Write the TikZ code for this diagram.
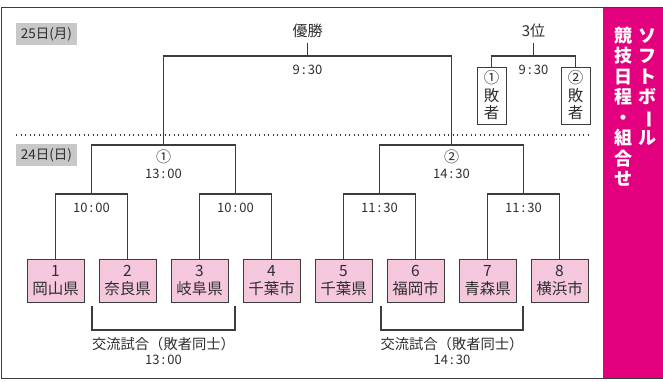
\documentclass[tikz,border=0pt]{standalone}
\usepackage{fontspec}
\setmainfont{Noto Sans CJK JP}
\usepackage{graphicx}
\usetikzlibrary{positioning}
\definecolor{linegray}{HTML}{3C3C3C}
\definecolor{textgray}{HTML}{2E2E2E}
\definecolor{teampink}{HTML}{F6C8DE}
\definecolor{bandpink}{HTML}{E3007F}
\definecolor{dategray}{HTML}{C8C8C8}
\tikzset{
	bracket/.style={draw=linegray, line width=1.1pt},
	teambox/.style={draw=linegray, fill=teampink, line width=0.9pt, minimum width=57pt, minimum height=43pt, inner sep=0pt, align=center, font=\fontsize{15.5}{18.5}\selectfont},
	loserbox/.style={draw=linegray, fill=white, line width=0.9pt, minimum width=29pt, minimum height=57pt, inner sep=0pt, align=center, font=\fontsize{15.5}{17.5}\selectfont},
	datebox/.style={fill=dategray, minimum width=61pt, minimum height=22pt, inner sep=0pt, font=\fontsize{13.5}{15}\selectfont},
	timelabel/.style={inner sep=0pt, font=\fontsize{13}{15}\selectfont},
	titlelabel/.style={inner sep=0pt, outer sep=5pt, font=\fontsize{15}{17}\selectfont},
	bandtext/.style={inner sep=0pt, align=center, text=white, font=\bfseries\fontsize{18}{20.5}\selectfont}
}
\newcommand{\hm}[2]{#1\,:\,#2}

\begin{document}
\begin{tikzpicture}[x=1pt, y=-1pt, text=textgray]

	\useasboundingbox[fill=white] (0,0) rectangle (663,381);
	
	% frame and title band
	\draw[linegray, line width=1pt] (1.5,7.5) rectangle (662,378);
	\fill[bandpink] (603,8) rectangle (663,378);
	\node[bandtext] (bandright) at (647,87) {ソ\\フ\\ト\\ボ\\\rotatebox[origin=c]{-90}{ー}\\ル};
	\node[bandtext] (bandleft) at (623,106.5) {競\\技\\日\\程\\・\\組\\合\\せ};
	
	% days
	\node[datebox] (day25) at (46.5,34) {25日(月)};
	\node[datebox] (day24) at (46.5,155) {24日(日)};
	\draw[linegray, line width=1.2pt, dash pattern=on 1.2pt off 3.3pt] (16,135) -- (590,135);
	
	% teams
	\foreach \name [count=\i] in {岡山県,奈良県,岐阜県,千葉市,千葉県,福岡市,青森県,横浜市}
		\node[teambox] (t\i) at ({55.5+72*(\i-1)},280.5) {\i\\\name};
	
	% first round
	\coordinate (q1) at (91.5,194);
	\coordinate (q2) at (235.5,194);
	\coordinate (q3) at (379.5,194);
	\coordinate (q4) at (523.5,194);
	\draw[bracket] (t1.north) |- (q1) -| (t2.north);
	\draw[bracket] (t3.north) |- (q2) -| (t4.north);
	\draw[bracket] (t5.north) |- (q3) -| (t6.north);
	\draw[bracket] (t7.north) |- (q4) -| (t8.north);
	\node[timelabel] (time1) at (91.5,208) {\hm{10}{00}};
	\node[timelabel] (time2) at (235.5,208) {\hm{10}{00}};
	\node[timelabel] (time3) at (379.5,208) {\hm{11}{30}};
	\node[timelabel] (time4) at (523.5,208) {\hm{11}{30}};
	
	% semifinals
	\coordinate (s1) at (163.5,145);
	\coordinate (s2) at (451.5,145);
	\draw[bracket] (q1) |- (s1) -| (q2);
	\draw[bracket] (q3) |- (s2) -| (q4);
	\node[timelabel, font=\fontsize{15}{17}\selectfont] (semi1) at (163.5,157) {①};
	\node[timelabel] (time5) at (163.5,174) {\hm{13}{00}};
	\node[timelabel, font=\fontsize{15}{17}\selectfont] (semi2) at (451.5,157) {②};
	\node[timelabel] (time6) at (451.5,174) {\hm{14}{30}};
	
	% final
	\coordinate (f) at (307.5,56);
	\draw[bracket] (s1) |- (f) -| (s2);
	\node[titlelabel] (champ) at (307.5,31) {優勝};
	\draw[bracket] (champ.south) -- (f);
	\node[timelabel] (time7) at (307.5,70) {\hm{9}{30}};
	
	% third place
	\node[loserbox] (l1) at (491.5,95.5) {①\\敗\\者};
	\node[loserbox] (l2) at (575.5,95.5) {②\\敗\\者};
	\coordinate (third) at (533.5,56);
	\draw[bracket] (l1.north) |- (third) -| (l2.north);
	\node[titlelabel] (thirdlabel) at (533.5,31) {3位};
	\draw[bracket] (thirdlabel.south) -- (third);
	\node[timelabel] (time8) at (533.5,70) {\hm{9}{30}};
	
	% friendly matches
	\coordinate (k1a) at (92,306);
	\coordinate (k1b) at (235,306);
	\coordinate (k1) at (163.5,330);
	\coordinate (k2a) at (381,306);
	\coordinate (k2b) at (523,306);
	\coordinate (k2) at (452,330);
	\draw[bracket] (k1a) |- (k1) -| (k1b);
	\draw[bracket] (k2a) |- (k2) -| (k2b);
	\node[titlelabel, outer sep=0pt, font=\fontsize{14.3}{16}\selectfont] (fr1) at (163.5,344) {交流試合（敗者同士）};
	\node[timelabel] (time9) at (163.5,360) {\hm{13}{00}};
	\node[titlelabel, outer sep=0pt, font=\fontsize{14.3}{16}\selectfont] (fr2) at (452,344) {交流試合（敗者同士）};
	\node[timelabel] (time10) at (452,360) {\hm{14}{30}};

\end{tikzpicture}
\end{document}
